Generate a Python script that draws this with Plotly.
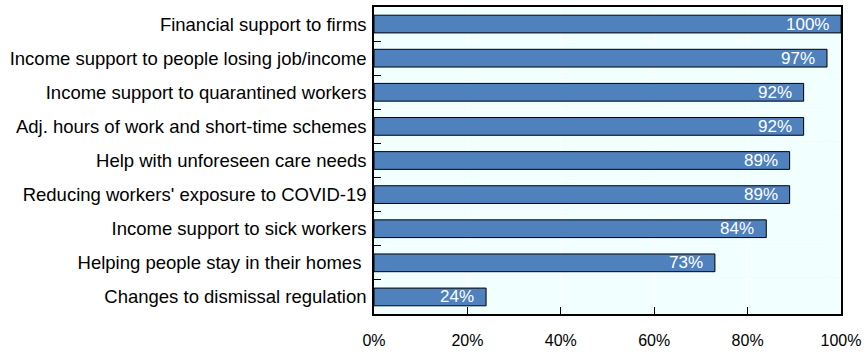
import plotly.graph_objects as go

categories = [
    "Financial support to firms",
    "Income support to people losing job/income",
    "Income support to quarantined workers",
    "Adj. hours of work and short-time schemes",
    "Help with unforeseen care needs",
    "Reducing workers' exposure to COVID-19",
    "Income support to sick workers",
    "Helping people stay in their homes ",
    "Changes to dismissal regulation",
]
values = [100, 97, 92, 92, 89, 89, 84, 73, 24]
x_ticks = [0, 20, 40, 60, 80, 100]
x_tick_labels = ["0%", "20%", "40%", "60%", "80%", "100%"]

FONT = "Liberation Sans, Arial"

fig = go.Figure(
    go.Bar(
        x=values,
        y=categories,
        orientation="h",
        width=0.52,
        marker=dict(color="#4F81BD", line=dict(color="#000000", width=1)),
        hoverinfo="x+y",
    )
)

# value labels placed just inside the end of each bar
for cat, v in zip(categories, values):
    fig.add_annotation(
        x=v,
        y=cat,
        text=f"{v}%",
        showarrow=False,
        xanchor="right",
        yanchor="middle",
        xshift=-10,
        font=dict(color="#FFFFFF", size=17, family=FONT),
    )

fig.update_layout(
    width=866,
    height=354,
    margin=dict(l=374, r=23, t=5, b=36),
    paper_bgcolor="#FFFFFF",
    plot_bgcolor="#F2FFFF",
    showlegend=False,
    font=dict(family=FONT, size=16, color="#000000"),
)

fig.update_xaxes(
    range=[0, 100],
    tickvals=x_ticks,
    ticktext=x_tick_labels,
    ticks="inside",
    ticklen=7,
    tickcolor="#000000",
    ticklabelstandoff=11,
    showgrid=True,
    gridcolor="#FFFFFF",
    gridwidth=1,
    showline=True,
    linecolor="#000000",
    linewidth=1.5,
    mirror=True,
    zeroline=False,
    tickfont=dict(size=16),
)

fig.update_yaxes(
    autorange="reversed",
    ticks="inside",
    tickson="boundaries",
    ticklen=7,
    tickcolor="#000000",
    ticklabelstandoff=2,
    showgrid=True,
    gridcolor="#FFFFFF",
    showline=True,
    linecolor="#000000",
    linewidth=1.5,
    mirror=True,
    tickfont=dict(size=18.5),
)

fig.write_html("out.html")
